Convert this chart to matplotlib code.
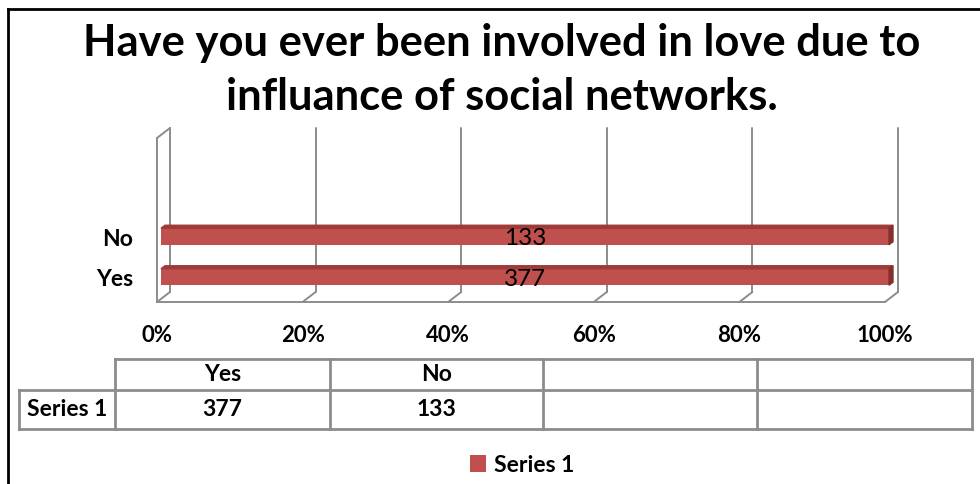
import numpy as np
import matplotlib.pyplot as plt
from matplotlib.patches import Polygon

plt.rcParams['font.family'] = ['Lato', 'DejaVu Sans']

title = "Have you ever been involved in love due to\ninfluance of social networks."
categories = ["Yes", "No"]
counts = [377, 133]
series_name = "Series 1"
ticks = [0, 20, 40, 60, 80, 100]
tick_labels = ["0%", "20%", "40%", "60%", "80%", "100%"]

# one series in a 100% stacked bar -> every bar fills the whole axis
shares = [100.0 * c / c for c in counts]

bar_red = "#C0504D"
bar_top = "#9E3B39"
bar_side = "#85302E"
grid_c = "#8C8C8C"

W, H = 980, 484
fig = plt.figure(figsize=(W / 100, H / 100), dpi=100)

# pixel overlay for frame, title, table
fax = fig.add_axes([0, 0, 1, 1])
fax.set_xlim(0, W)
fax.set_ylim(H, 0)
fax.axis('off')

# bar plane axes
left, right, bottom, top = 161, 889, 299, 135
ax = fig.add_axes([left / W, 1 - bottom / H, (right - left) / W, (bottom - top) / H])
ax.set_xlim(0, 100)
cat_px = 40.5
y_lo = -22 / cat_px
y_hi = y_lo + (bottom - top) / cat_px
ax.set_ylim(y_lo, y_hi)
ax.axis('off')

DX = 100 / (right - left)   # data units per pixel
DY = 1 / cat_px
fx, fy = -4 * DX, -3 * DY   # front plane shift
bx, by = 9 * DX, 7 * DY     # back plane shift

line_kw = dict(color=grid_c, lw=1.4, clip_on=False, solid_capstyle='round')

# back gridlines + floor diagonals
for v in ticks:
    ax.plot([v + bx, v + bx], [y_lo + by, y_hi + by], **line_kw)
    ax.plot([v + fx, v + bx], [y_lo + fy, y_lo + by], **line_kw)
# left wall
ax.plot([fx, fx], [y_lo + fy, y_hi + fy], **line_kw)
ax.plot([fx, bx], [y_hi + fy, y_hi + by], **line_kw)
# front floor edge
ax.plot([ticks[0] + fx, ticks[-1] + fx], [y_lo + fy, y_lo + fy], **line_kw)

# bars
ypos = np.arange(len(categories))
bh = 16.5 / cat_px
ddx, ddy = 4 * DX, 3 * DY
ax.barh(ypos, shares, height=bh, color=bar_red, zorder=3, label=series_name)
for y, s, c, cat in zip(ypos, shares, counts, categories):
    yt = y + bh / 2
    yb = y - bh / 2
    ax.add_patch(Polygon([(0, yt), (s, yt), (s + ddx, yt + ddy), (ddx, yt + ddy)],
                         closed=True, color=bar_top, zorder=3, clip_on=False))
    ax.add_patch(Polygon([(s, yb), (s, yt), (s + ddx, yt + ddy), (s + ddx, yb + ddy)],
                         closed=True, color=bar_side, zorder=3, clip_on=False))
    ax.text(s / 2, y - 2 * DY, str(c), ha='center', va='center', fontsize=17.5,
            color='black', zorder=4)
    ax.text(-28 * DX, y - 3 * DY, cat, ha='right', va='center', fontsize=16.5,
            fontweight='bold')

for v, lab in zip(ticks, tick_labels):
    ax.text(v + fx, y_lo - 36 * DY, lab, ha='center', va='center', fontsize=16,
            fontweight='bold', clip_on=False)

# frame
fax.plot([8, 8], [9, H], color='black', lw=2)
fax.plot([8, W], [9, 9], color='black', lw=2)

# title
fax.text(502, 70, title, ha='center', va='center', fontsize=31.3,
         fontweight='bold', linespacing=1.42)

# data table
cols = [19, 115, 330, 543, 757, 972]
r0, r1, r2 = 359, 390, 429
tkw = dict(color=grid_c, lw=2)
fax.plot([cols[1], cols[-1]], [r0, r0], **tkw)
fax.plot([cols[0], cols[-1]], [r1, r1], **tkw)
fax.plot([cols[0], cols[-1]], [r2, r2], **tkw)
fax.plot([cols[0], cols[0]], [r1, r2], **tkw)
for cx in cols[1:]:
    fax.plot([cx, cx], [r0, r2], **tkw)
fax.text((cols[0] + cols[1]) / 2, (r1 + r2) / 2, series_name, ha='center',
         va='center', fontsize=16.5, fontweight='bold')
for i, (cat, c) in enumerate(zip(categories, counts)):
    xc = (cols[i + 1] + cols[i + 2]) / 2
    fax.text(xc, (r0 + r1) / 2, cat, ha='center', va='center', fontsize=16.5,
             fontweight='bold')
    fax.text(xc, (r1 + r2) / 2, str(c), ha='center', va='center', fontsize=16.5,
             fontweight='bold')

# legend
leg = fig.legend(loc='center', bbox_to_anchor=(522 / W, 1 - 465 / H), frameon=False,
                 prop={'size': 16.5, 'weight': 'bold'}, handlelength=0.7,
                 handleheight=0.7, handletextpad=0.35)

fig.savefig("out.png", dpi=100)
